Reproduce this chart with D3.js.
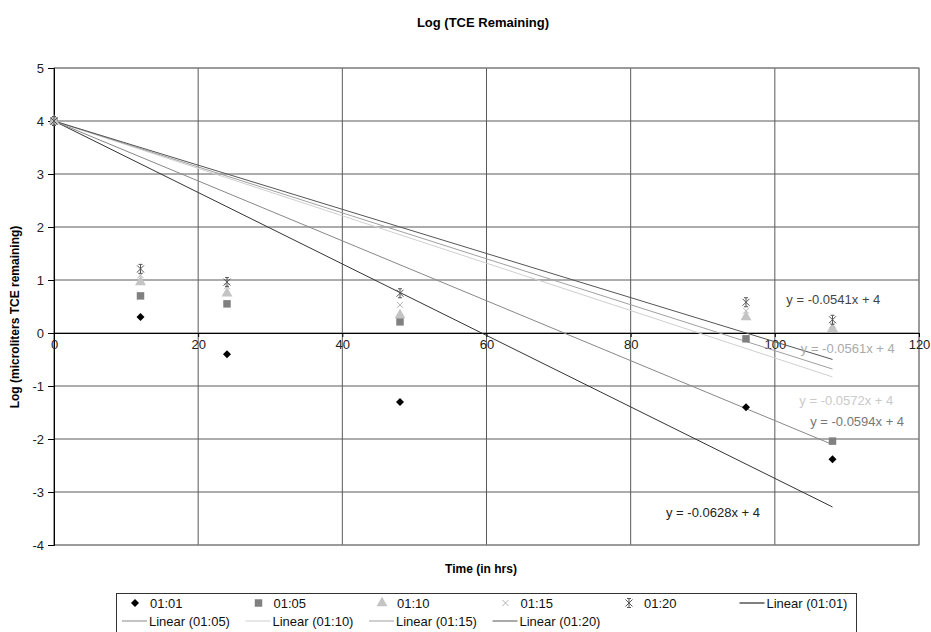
<!DOCTYPE html>
<head>
  <meta charset="utf-8">
  <script src="https://d3js.org/d3.v7.min.js"></script>
  <style type="text/css">
    body { margin: 0; background: #fff; }
    svg { font-family: "Liberation Sans", Arial, sans-serif; }
    .tick text { font-size: 13px; fill: #222; }
  </style>
</head>

<body>
  <script type="text/javascript">
    // hours since start
    var hours = [0, 12, 24, 48, 96, 108];

    // log of microliters TCE remaining, one array per ratio
    var s0101 = [4, 0.30, -0.40, -1.30, -1.40, -2.38];
    var s0105 = [4, 0.70, 0.55, 0.21, -0.11, -2.04];
    var s0110 = [4, 0.96, 0.75, 0.34, 0.30, 0.08];
    var s0115 = [4, 1.09, 0.88, 0.53, 0.42, 0.15];
    var s0120 = [4, 1.21, 0.96, 0.75, 0.58, 0.25];

    var seriesNames = ["01:01", "01:05", "01:10", "01:15", "01:20"];
    var seriesValues = [s0101, s0105, s0110, s0115, s0120];

    // trendline labels as printed on the chart
    var eqLabels = ["y = -0.0628x + 4", "y = -0.0594x + 4", "y = -0.0572x + 4", "y = -0.0561x + 4", "y = -0.0541x + 4"];
    var eqAnchorX = [84.9, 104.9, 103.4, 103.6, 101.6];
    var eqAnchorY = [-3.38, -1.66, -1.28, -0.30, 0.64];

    var xTicks = [0, 20, 40, 60, 80, 100, 120];
    var yTicks = [-4, -3, -2, -1, 0, 1, 2, 3, 4, 5];

    var markerColor = ["#000", "#808080", "#c4c4c4", "#b4b4b4", "#555"];
    var lineColor = ["#333", "#888", "#cfcfcf", "#a0a0a0", "#555"];
    var eqColor = ["#222", "#777", "#cacaca", "#aaa", "#444"];

    var width = 931, height = 632;

    var x = d3.scaleLinear().domain([0, 120]).range([54, 919]);
    var y = d3.scaleLinear().domain([-4, 5]).range([545, 68]);

    var svg = d3.select("body").append("svg")
      .attr("width", width)
      .attr("height", height);

    // grid
    svg.append("g").selectAll("line.h")
      .data(yTicks)
      .enter().append("line")
      .attr("x1", x(0)).attr("x2", x(120))
      .attr("y1", function(d) { return y(d); })
      .attr("y2", function(d) { return y(d); })
      .attr("stroke", "#5a5a5a");

    svg.append("g").selectAll("line.v")
      .data(xTicks)
      .enter().append("line")
      .attr("y1", y(5)).attr("y2", y(-4))
      .attr("x1", function(d) { return x(d); })
      .attr("x2", function(d) { return x(d); })
      .attr("stroke", "#5a5a5a");

    svg.append("rect")
      .attr("x", x(0)).attr("y", y(5))
      .attr("width", x(120) - x(0)).attr("height", y(-4) - y(5))
      .attr("fill", "none").attr("stroke", "#888");

    // axes
    var yAxis = d3.axisLeft(y).tickValues(yTicks)
      .tickFormat(function(d) { return String(d); })
      .tickSize(6).tickPadding(4);
    var gy = svg.append("g")
      .attr("transform", "translate(" + x(0) + ",0)")
      .call(yAxis);

    var xAxis = d3.axisBottom(x).tickValues(xTicks)
      .tickFormat(function(d) { return String(d); })
      .tickSize(4).tickPadding(3);
    var gx = svg.append("g")
      .attr("transform", "translate(0," + y(0) + ")")
      .call(xAxis);

    gy.select(".domain").attr("stroke", "#000");
    gx.select(".domain").attr("stroke", "#000");
    gy.selectAll(".tick line").attr("stroke", "#000");
    gx.selectAll(".tick line").attr("stroke", "#000");

    // trendlines: least squares with intercept fixed at the t=0 value
    function trend(vals) {
      var y0 = vals[0], sxy = 0, sxx = 0;
      hours.forEach(function(h, i) {
        sxy += h * (vals[i] - y0);
        sxx += h * h;
      });
      var m = sxy / sxx, xe = d3.max(hours);
      return [[0, y0], [xe, y0 + m * xe]];
    }

    var line = d3.line()
      .x(function(d) { return x(d[0]); })
      .y(function(d) { return y(d[1]); });

    svg.append("g").selectAll("path")
      .data(seriesValues)
      .enter().append("path")
      .attr("d", function(d) { return line(trend(d)); })
      .attr("fill", "none")
      .attr("stroke", function(d, i) { return lineColor[i]; })
      .attr("stroke-width", 1);

    // markers
    var diamondMark = "M0,-4L4,0L0,4L-4,0Z";
    var xMark = "M-3,-3L3,3M-3,3L3,-3";
    var starMark = "M-3.5,-3.5L3.5,3.5M-3.5,3.5L3.5,-3.5M0,-4.5L0,4.5M-2,-4.5L2,-4.5M-2,4.5L2,4.5";
    var symbols = [
      diamondMark,
      d3.symbol().type(d3.symbolSquare).size(56)(),
      d3.symbol().type(d3.symbolTriangle).size(52)(),
      xMark,
      starMark
    ];
    var filled = [true, true, true, false, false];

    seriesValues.forEach(function(vals, si) {
      svg.append("g").selectAll("path")
        .data(vals)
        .enter().append("path")
        .attr("transform", function(d, i) { return "translate(" + x(hours[i]) + "," + y(d) + ")"; })
        .attr("d", symbols[si])
        .attr("fill", filled[si] ? markerColor[si] : "none")
        .attr("stroke", filled[si] ? "none" : markerColor[si])
        .attr("stroke-width", 1);
    });

    // equation labels
    svg.append("g").selectAll("text")
      .data(eqLabels)
      .enter().append("text")
      .attr("x", function(d, i) { return x(eqAnchorX[i]); })
      .attr("y", function(d, i) { return y(eqAnchorY[i]); })
      .attr("dy", "0.35em")
      .attr("font-size", 13)
      .attr("fill", function(d, i) { return eqColor[i]; })
      .text(function(d) { return d; });

    // titles
    svg.append("text")
      .attr("x", 483).attr("y", 27)
      .attr("text-anchor", "middle")
      .attr("font-size", 13).attr("font-weight", "bold")
      .text("Log (TCE Remaining)");

    svg.append("text")
      .attr("x", 481).attr("y", 573)
      .attr("text-anchor", "middle")
      .attr("font-size", 12).attr("font-weight", "bold")
      .text("Time (in hrs)");

    svg.append("text")
      .attr("transform", "translate(19,317) rotate(-90)")
      .attr("text-anchor", "middle")
      .attr("font-size", 12).attr("font-weight", "bold")
      .text("Log (microliters TCE remaining)");

    // legend
    var legend = svg.append("g");
    legend.append("rect")
      .attr("x", 116.5).attr("y", 593.5)
      .attr("width", 740).attr("height", 60)
      .attr("fill", "#fff").attr("stroke", "#333");

    var colW = 123.5, col0 = 120, row1 = 603, row2 = 621;
    seriesNames.forEach(function(name, i) {
      var cx = col0 + i * colW;
      legend.append("path")
        .attr("transform", "translate(" + (cx + 15) + "," + row1 + ")")
        .attr("d", symbols[i])
        .attr("fill", filled[i] ? markerColor[i] : "none")
        .attr("stroke", filled[i] ? "none" : markerColor[i]);
      legend.append("text")
        .attr("x", cx + 30).attr("y", row1).attr("dy", "0.35em")
        .attr("font-size", 13).attr("fill", "#111")
        .text(name);
    });

    var trendItems = seriesNames.map(function(n, i) {
      var slot = i === 0 ? [5, row1] : [i - 1, row2];
      return { name: "Linear (" + n + ")", col: slot[0], row: slot[1], color: lineColor[i] };
    });
    trendItems.forEach(function(t) {
      var cx = col0 + t.col * colW;
      legend.append("line")
        .attr("x1", cx + 2).attr("x2", cx + 27)
        .attr("y1", t.row).attr("y2", t.row)
        .attr("stroke", t.color === "#333" ? "#000" : t.color);
      legend.append("text")
        .attr("x", cx + 29).attr("y", t.row).attr("dy", "0.35em")
        .attr("font-size", 13).attr("fill", "#111")
        .text(t.name);
    });
  </script>
</body>
